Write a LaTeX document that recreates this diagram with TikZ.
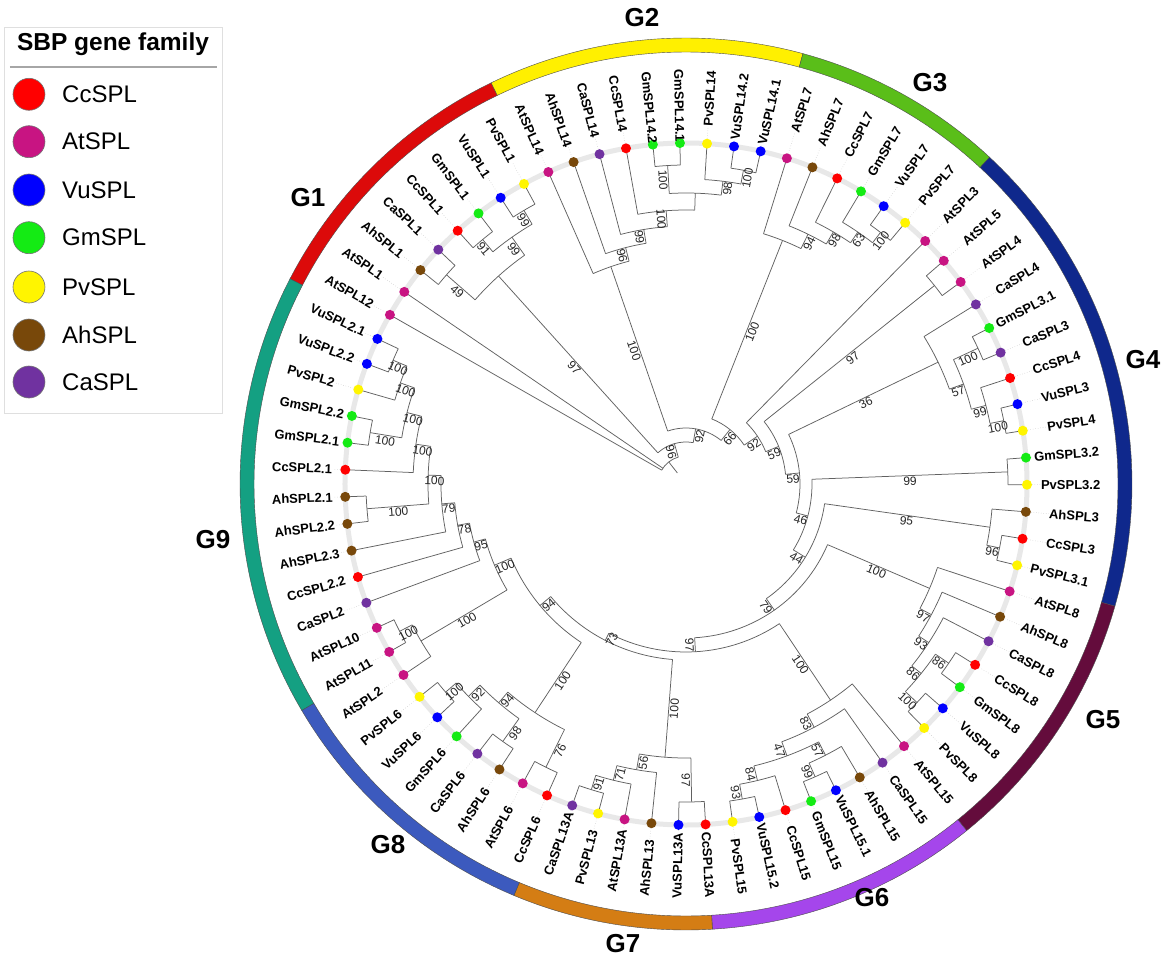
\documentclass[tikz,border=0pt]{standalone}
\usepackage{fontspec}
\setmainfont{Liberation Sans}
\pgfdeclarelayer{bg}\pgfdeclarelayer{mid}
\pgfsetlayers{bg,mid,main}
\definecolor{cCc}{RGB}{255,0,0}
\definecolor{cAt}{RGB}{200,20,130}
\definecolor{cVu}{RGB}{0,0,255}
\definecolor{cGm}{RGB}{20,235,20}
\definecolor{cPv}{RGB}{255,245,0}
\definecolor{cAh}{RGB}{120,72,10}
\definecolor{cCa}{RGB}{112,50,160}
\definecolor{rA}{RGB}{220,10,10}
\definecolor{rB}{RGB}{255,240,0}
\definecolor{rC}{RGB}{90,190,25}
\definecolor{rD}{RGB}{15,40,140}
\definecolor{rE}{RGB}{100,12,60}
\definecolor{rF}{RGB}{165,70,235}
\definecolor{rG}{RGB}{212,125,20}
\definecolor{rH}{RGB}{60,90,190}
\definecolor{rI}{RGB}{20,160,130}
\tikzset{
  br/.style={draw=black!62, line width=0.75pt},
  lbl/.style={font=\bfseries\fontsize{13}{13}\selectfont, inner sep=0.5pt},
  bs/.style={font=\fontsize{12}{12}\selectfont, inner sep=1pt, text=black!85},
  dotnode/.style={circle, minimum size=10pt, inner sep=0pt, draw=none},
  leader/.style={draw=gray!45, dotted, line width=0.5pt},
  glbl/.style={font=\bfseries\fontsize{26}{26}\selectfont},
  legc/.style={circle, minimum size=32pt, inner sep=0pt, draw=black!55, line width=0.6pt},
  legt/.style={font=\fontsize{24}{24}\selectfont, anchor=west, inner sep=0pt},
}
\newcommand\LF[3]{%
  \pgfmathsetmacro\tmpang{150.26-(#1-1)*4.557}%
  \expandafter\xdef\csname ANGL#1\endcsname{\tmpang}%
  \expandafter\xdef\csname RADL#1\endcsname{341}%
  \expandafter\xdef\csname BSL#1\endcsname{}%
  \coordinate (NL#1) at (\tmpang:341pt);
  \node[dotnode, fill=c#2] (DL#1) at (\tmpang:341pt) {};
  \pgfmathtruncatemacro\side{cos(\tmpang)>0 ? 1 : 0}%
  \ifnum\side=1
    \node[lbl, rotate=\tmpang, anchor=east] (TL#1) at (\tmpang:415pt) {#3};
    \draw[leader] (DL#1) -- (TL#1.west);
  \else
    \pgfmathsetmacro\rot{\tmpang+180}%
    \node[lbl, rotate=\rot, anchor=west] (TL#1) at (\tmpang:415pt) {#3};
    \draw[leader] (DL#1) -- (TL#1.east);
  \fi
}
\newcommand\stemlbl[2]{%
  \edef\sbs{\csname BS#1\endcsname}%
  \ifx\sbs\empty\else
    \edef\sa{\csname ANG#1\endcsname}%
    \edef\sr{\csname RAD#1\endcsname}%
    \pgfmathsetmacro\smid{(#2+\sr)/2}%
    \pgfmathtruncatemacro\sside{cos(\sa)>0 ? 1 : 0}%
    \ifnum\sside=1 \edef\srot{\sa}\else\pgfmathsetmacro\srot{\sa+180}\fi
    \node[bs, rotate=\srot, anchor=north] (B#1) at (\sa:\smid pt) {\sbs};
  \fi
}
\newcommand\ND[5]{%
  \edef\aA{\csname ANG#3\endcsname}%
  \edef\aB{\csname ANG#4\endcsname}%
  \pgfmathsetmacro\nang{(\aA+\aB)/2}%
  \expandafter\xdef\csname ANG#1\endcsname{\nang}%
  \expandafter\xdef\csname RAD#1\endcsname{#2}%
  \expandafter\xdef\csname BS#1\endcsname{#5}%
  \coordinate (N#1) at (\nang:#2pt);
  \begin{pgfonlayer}{mid}
    \draw[br] (\aA:#2pt) arc[start angle=\aA, end angle=\aB, radius=#2pt];
    \draw[br] (\aA:#2pt) -- (N#3);
    \draw[br] (\aB:#2pt) -- (N#4);
  \end{pgfonlayer}
  \stemlbl{#3}{#2}%
  \stemlbl{#4}{#2}%
}
\newcommand\RSEG[3]{%
  \fill[#3, draw=black!70, line width=0.4pt] (#1:432pt) arc[start angle=#1, end angle=#2, radius=432pt] -- (#2:446pt) arc[start angle=#2, end angle=#1, radius=446pt] -- cycle;
}
\begin{document}
\begin{tikzpicture}[x=1pt,y=1pt]
\useasboundingbox (-686,-475) rectangle (481,484);
\begin{pgfonlayer}{bg}
  \fill[white] (-686,-475) rectangle (481,484);
  \draw[gray!18, line width=5pt] (0,0) circle[radius=341pt];
\end{pgfonlayer}
% outer ring
\RSEG{152.6}{115.9}{rA}
\RSEG{115.9}{74.8}{rB}
\RSEG{74.8}{47.1}{rC}
\RSEG{47.1}{-15.9}{rD}
\RSEG{-15.9}{-51}{rE}
\RSEG{-51}{-86.6}{rF}
\RSEG{-86.6}{-112.7}{rG}
\RSEG{-112.7}{-149.5}{rH}
\RSEG{-149.5}{-207.4}{rI}
\node[glbl] (gl1) at (-378,286) {G1};
\node[glbl] (gl2) at (-44,466) {G2};
\node[glbl] (gl3) at (244,401) {G3};
\node[glbl] (gl4) at (457,124) {G4};
\node[glbl] (gl5) at (417,-236) {G5};
\node[glbl] (gl6) at (186,-414) {G6};
\node[glbl] (gl7) at (-63,-460) {G7};
\node[glbl] (gl8) at (-298,-361) {G8};
\node[glbl] (gl9) at (-473,-56) {G9};
% leaves
\LF{1}{At}{AtSPL12}
\LF{2}{At}{AtSPL1}
\LF{3}{Ah}{AhSPL1}
\LF{4}{Ca}{CaSPL1}
\LF{5}{Cc}{CcSPL1}
\LF{6}{Gm}{GmSPL1}
\LF{7}{Vu}{VuSPL1}
\LF{8}{Pv}{PvSPL1}
\LF{9}{At}{AtSPL14}
\LF{10}{Ah}{AhSPL14}
\LF{11}{Ca}{CaSPL14}
\LF{12}{Cc}{CcSPL14}
\LF{13}{Gm}{GmSPL14.2}
\LF{14}{Gm}{GmSPL14.1}
\LF{15}{Pv}{PvSPL14}
\LF{16}{Vu}{VuSPL14.2}
\LF{17}{Vu}{VuSPL14.1}
\LF{18}{At}{AtSPL7}
\LF{19}{Ah}{AhSPL7}
\LF{20}{Cc}{CcSPL7}
\LF{21}{Gm}{GmSPL7}
\LF{22}{Vu}{VuSPL7}
\LF{23}{Pv}{PvSPL7}
\LF{24}{At}{AtSPL3}
\LF{25}{At}{AtSPL5}
\LF{26}{At}{AtSPL4}
\LF{27}{Ca}{CaSPL4}
\LF{28}{Gm}{GmSPL3.1}
\LF{29}{Ca}{CaSPL3}
\LF{30}{Cc}{CcSPL4}
\LF{31}{Vu}{VuSPL3}
\LF{32}{Pv}{PvSPL4}
\LF{33}{Gm}{GmSPL3.2}
\LF{34}{Pv}{PvSPL3.2}
\LF{35}{Ah}{AhSPL3}
\LF{36}{Cc}{CcSPL3}
\LF{37}{Pv}{PvSPL3.1}
\LF{38}{At}{AtSPL8}
\LF{39}{Ah}{AhSPL8}
\LF{40}{Ca}{CaSPL8}
\LF{41}{Cc}{CcSPL8}
\LF{42}{Gm}{GmSPL8}
\LF{43}{Vu}{VuSPL8}
\LF{44}{Pv}{PvSPL8}
\LF{45}{At}{AtSPL15}
\LF{46}{Ca}{CaSPL15}
\LF{47}{Ah}{AhSPL15}
\LF{48}{Vu}{VuSPL15.1}
\LF{49}{Gm}{GmSPL15}
\LF{50}{Cc}{CcSPL15}
\LF{51}{Vu}{VuSPL15.2}
\LF{52}{Pv}{PvSPL15}
\LF{53}{Cc}{CcSPL13A}
\LF{54}{Vu}{VuSPL13A}
\LF{55}{Ah}{AhSPL13}
\LF{56}{At}{AtSPL13A}
\LF{57}{Pv}{PvSPL13}
\LF{58}{Ca}{CaSPL13A}
\LF{59}{Cc}{CcSPL6}
\LF{60}{At}{AtSPL6}
\LF{61}{Ah}{AhSPL6}
\LF{62}{Ca}{CaSPL6}
\LF{63}{Gm}{GmSPL6}
\LF{64}{Vu}{VuSPL6}
\LF{65}{Pv}{PvSPL6}
\LF{66}{At}{AtSPL2}
\LF{67}{At}{AtSPL11}
\LF{68}{At}{AtSPL10}
\LF{69}{Ca}{CaSPL2}
\LF{70}{Cc}{CcSPL2.2}
\LF{71}{Ah}{AhSPL2.3}
\LF{72}{Ah}{AhSPL2.2}
\LF{73}{Ah}{AhSPL2.1}
\LF{74}{Cc}{CcSPL2.1}
\LF{75}{Gm}{GmSPL2.1}
\LF{76}{Gm}{GmSPL2.2}
\LF{77}{Pv}{PvSPL2}
\LF{78}{Vu}{VuSPL2.2}
\LF{79}{Vu}{VuSPL2.1}
% G1
\ND{g1x}{318}{L5}{L6}{91}
\ND{g1a}{318}{L7}{L8}{99}
\ND{g1b}{302}{g1x}{g1a}{99}
\ND{g1d}{318}{L3}{L4}{49}
\ND{g1e}{280}{g1d}{g1b}{97}
% G2
\ND{g2a}{319}{L13}{L14}{100}
\ND{g2b}{319}{L16}{L17}{100}
\ND{g2c}{305}{L15}{g2b}{98}
\ND{g2d}{291}{g2a}{g2c}{}
\ND{g2e}{274}{L12}{g2d}{100}
\ND{g2f}{258}{L11}{g2e}{99}
\ND{g2g}{244}{L10}{g2f}{96}
\ND{G2}{230}{L9}{g2g}{100}
% G3
\ND{g3a}{318}{L22}{L23}{100}
\ND{g3b}{305}{L21}{g3a}{63}
\ND{g3c}{292}{L20}{g3b}{98}
\ND{g3d}{278}{L19}{g3c}{94}
\ND{G3}{262}{L18}{g3d}{100}
% G4
\ND{g4at}{318}{L25}{L26}{97}
\ND{g4f}{322}{L28}{L29}{100}
\ND{g4h}{324}{L31}{L32}{100}
\ND{g4g}{310}{L30}{g4h}{99}
\ND{g4i}{295}{g4f}{g4g}{57}
\ND{G4a}{280}{L27}{g4i}{36}
\ND{g4e}{322}{L33}{L34}{99}
\ND{g4c}{320}{L36}{L37}{96}
\ND{g4d}{307}{L35}{g4c}{95}
% G5
\ND{g5a}{318}{L41}{L42}{86}
\ND{g5b}{318}{L43}{L44}{100}
\ND{g5c}{302}{g5a}{g5b}{86}
\ND{g5d}{290}{L40}{g5c}{93}
\ND{g5e}{278}{L39}{g5d}{97}
\ND{G5}{265}{L38}{g5e}{100}
% G6
\ND{g6a}{320}{L48}{L49}{99}
\ND{g6b}{305}{L47}{g6a}{57}
\ND{g6c}{320}{L51}{L52}{93}
\ND{g6d}{305}{L50}{g6c}{84}
\ND{g6e}{290}{g6b}{g6d}{47}
\ND{g6f}{275}{L46}{g6e}{83}
\ND{G6}{260}{L45}{g6f}{100}
% G7
\ND{g7a}{318}{L53}{L54}{97}
\ND{g7b}{320}{L57}{L58}{91}
\ND{g7c}{305}{L56}{g7b}{71}
\ND{g7d}{290}{L55}{g7c}{56}
\ND{G7}{274}{g7a}{g7d}{100}
% G8
\ND{g8e}{316}{L59}{L60}{76}
\ND{g8c}{316}{L61}{L62}{98}
\ND{g8a}{318}{L64}{L65}{100}
\ND{g8b}{304}{L63}{g8a}{92}
\ND{g8d}{288}{g8c}{g8b}{94}
\ND{G8}{274}{g8e}{g8d}{100}
% At clade
\ND{atc1}{322}{L67}{L68}{100}
\ND{AtC}{308}{L66}{atc1}{100}
% G9
\ND{g9a}{318}{L78}{L79}{100}
\ND{g9b}{303}{L77}{g9a}{100}
\ND{g9c}{320}{L75}{L76}{100}
\ND{g9d}{288}{g9c}{g9b}{100}
\ND{g9e}{273}{L74}{g9d}{100}
\ND{g9f}{320}{L72}{L73}{100}
\ND{g9g}{258}{g9f}{g9e}{100}
\ND{g9h}{245}{L71}{g9g}{79}
\ND{g9i}{232}{L70}{g9h}{78}
\ND{g9j}{220}{L69}{g9i}{95}
\ND{g9k}{208}{AtC}{g9j}{100}
% backbone
\ND{P94}{190}{G8}{g9k}{94}
\ND{P73}{176}{G7}{P94}{73}
\ND{P97}{168}{G6}{P73}{97}
\ND{P79}{154}{G5}{P97}{79}
\ND{P44}{140}{g4d}{P79}{44}
\ND{P46}{126}{g4e}{P44}{46}
\ND{P59b}{114}{G4a}{P46}{59}
\ND{P59a}{100}{g4at}{P59b}{59}
\ND{P92b}{86}{L24}{P59a}{92}
\ND{P66}{70}{G3}{P92b}{66}
\ND{P92a}{56}{G2}{P66}{92}
\ND{P96}{42}{g1e}{P92a}{96}
% root
\edef\aR{\csname ANGP96\endcsname}
\coordinate (Nroot) at (128:28pt);
\coordinate (Nstub) at (128:14pt);
\begin{pgfonlayer}{mid}
  \draw[br] (150.26:28pt) arc[start angle=150.26, end angle=\aR, radius=28pt];
  \draw[br] (150.26:28pt) -- (NL1);
  \draw[br] (145.703:28pt) -- (NL2);
  \draw[br] (\aR:28pt) -- (NP96);
  \draw[br] (Nroot) -- (Nstub);
\end{pgfonlayer}
\stemlbl{P96}{28}
% legend
\draw[gray!25, line width=0.8pt] (-682,71) rectangle (-464,457);
\node[font=\bfseries\fontsize{24.5}{24.5}\selectfont, inner sep=0pt] (legtitle) at (-573,440) {SBP gene family};
\draw[gray!70, line width=1.2pt] (-676,417) -- (-469,417);
\node[legc, fill=cCc] (lc1) at (-657,389.7) {}; \node[legt] (lt1) at (-624,389.7) {CcSPL};
\node[legc, fill=cAt] (lc2) at (-657,342.3) {}; \node[legt] (lt2) at (-624,342.3) {AtSPL};
\node[legc, fill=cVu] (lc3) at (-657,294) {}; \node[legt] (lt3) at (-624,294) {VuSPL};
\node[legc, fill=cGm] (lc4) at (-657,246.3) {}; \node[legt] (lt4) at (-624,246.3) {GmSPL};
\node[legc, fill=cPv] (lc5) at (-657,197) {}; \node[legt] (lt5) at (-624,197) {PvSPL};
\node[legc, fill=cAh] (lc6) at (-657,149) {}; \node[legt] (lt6) at (-624,149) {AhSPL};
\node[legc, fill=cCa] (lc7) at (-657,102) {}; \node[legt] (lt7) at (-624,102) {CaSPL};
\end{tikzpicture}
\end{document}
